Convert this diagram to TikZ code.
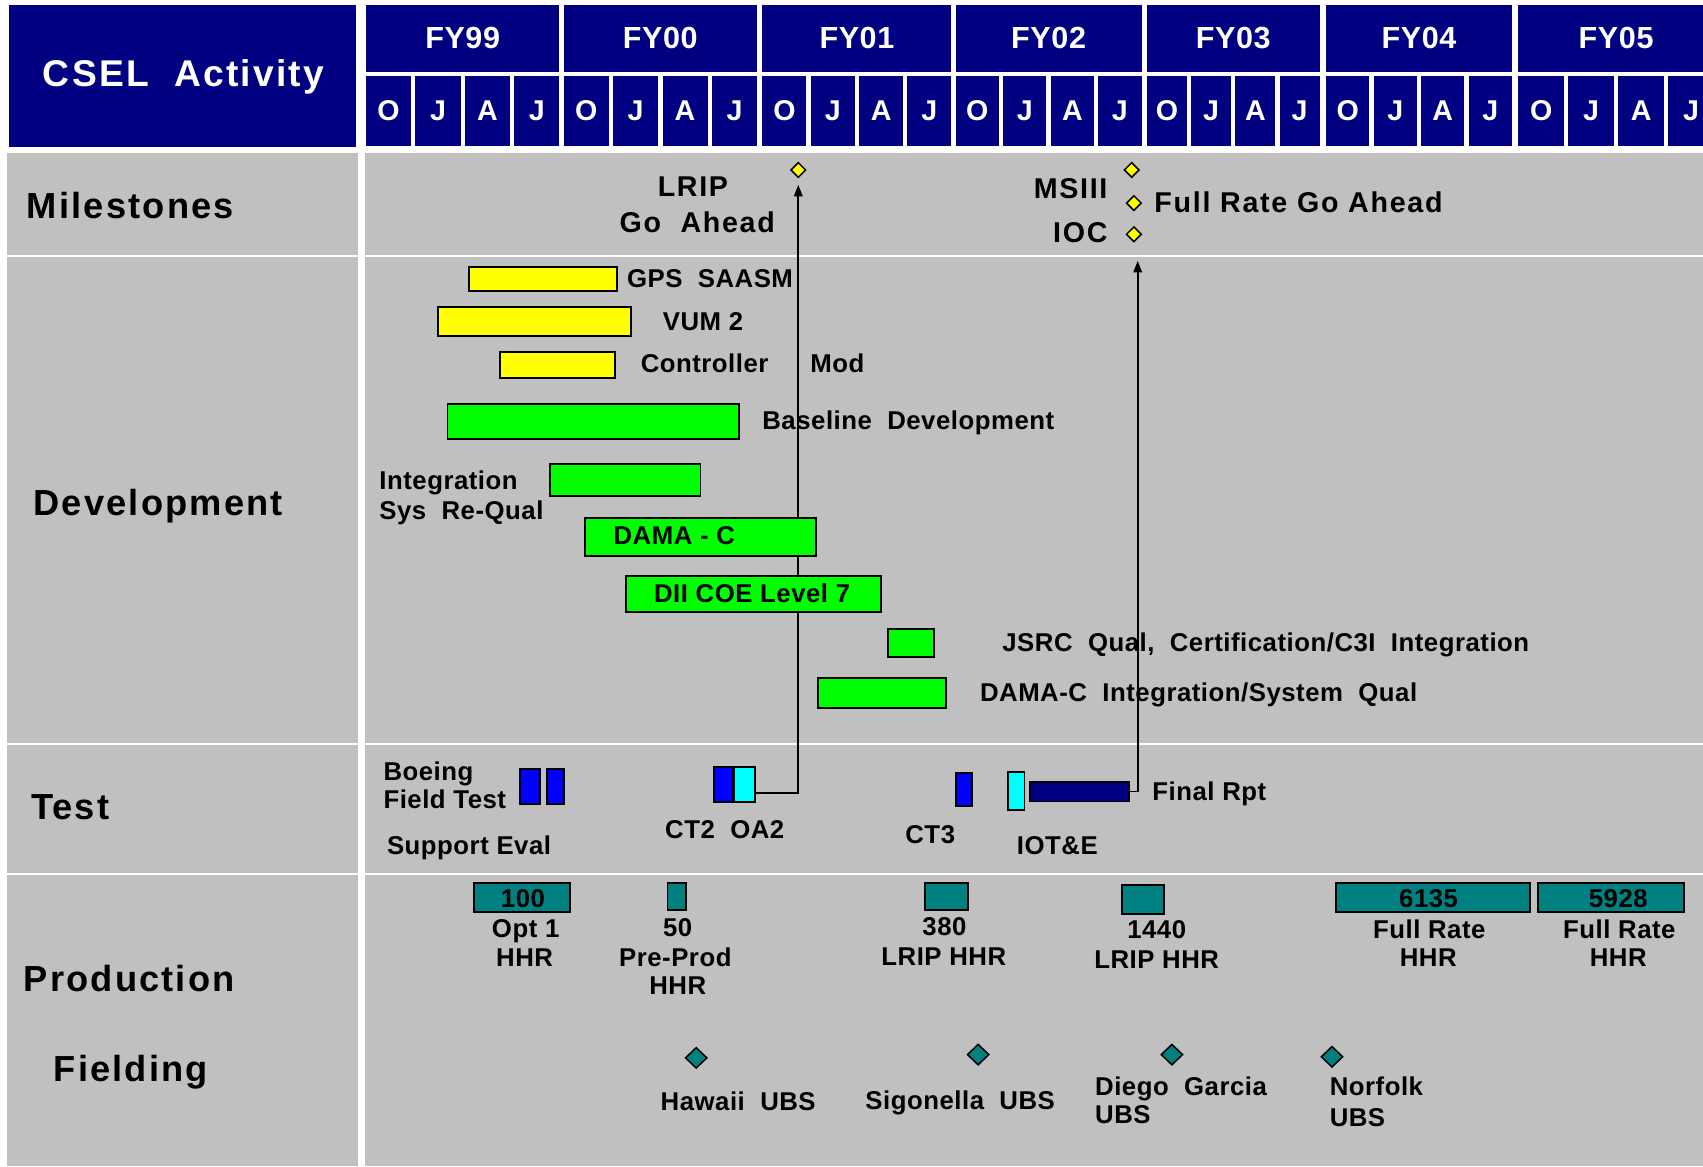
\documentclass[tikz,border=0pt]{standalone}
\usepackage{fontspec}
\setmainfont{Liberation Sans}[LetterSpace=2]
\newfontfamily\widefont{Liberation Sans}[LetterSpace=6]
\usetikzlibrary{arrows.meta,positioning,shapes.geometric,fit}
\definecolor{chartnavy}{HTML}{000080}
\definecolor{chartgray}{HTML}{C0C0C0}
\definecolor{baryellow}{HTML}{FFFF00}
\definecolor{bargreen}{HTML}{00FF00}
\definecolor{barblue}{HTML}{0000FF}
\definecolor{barcyan}{HTML}{00FFFF}
\definecolor{barteal}{HTML}{008080}

\begin{document}
\begin{tikzpicture}[x=.02cm,y=-.02cm,
    yrtxt/.style={anchor=mid,yshift=-3.3pt,inner sep=0pt,text=white,font=\fontsize{16}{18}\selectfont\bfseries},
    montxt/.style={anchor=mid,yshift=-3.2pt,inner sep=0pt,text=white,font=\fontsize{15}{17}\selectfont\bfseries},
    rowtxt/.style={anchor=mid west,yshift=-4.2pt,inner sep=0pt,font=\widefont\fontsize{19}{21}\selectfont\bfseries},
    mstxt/.style={anchor=mid,yshift=-3.2pt,inner sep=0pt,font=\widefont\fontsize{15}{17}\selectfont\bfseries},
    txt/.style={anchor=mid,yshift=-2.45pt,inner sep=0pt,font=\fontsize{13.5}{15}\selectfont\bfseries},
    bar/.style={draw=black,line width=1pt,inner sep=0pt},
    msmark/.style={diamond,draw=black,fill=baryellow,line width=.8pt,inner sep=0pt,minimum width=8pt,minimum height=8pt},
    sitemark/.style={diamond,draw=black,fill=barteal,line width=.8pt,inner sep=0pt,minimum width=11.5pt,minimum height=11pt},
    link/.style={black,line width=.9pt,-{Triangle[length=6pt,width=4.5pt]}}]
  \useasboundingbox (0,0) rectangle (1568,1074);
  \clip (0,0) rectangle (1568,1074);
  \fill[white] (0,0) rectangle (1568,1074);

  % header
  \fill[chartnavy] (8,5) rectangle (328,135);
  \node[rowtxt,anchor=mid,yshift=-.6pt,text=white,font=\widefont\fontsize{19.5}{21}\selectfont\bfseries] (title) at (169,67) {CSEL~~Activity};
  \foreach \fl/\fr/\fy in {337/515/FY99,519/697/FY00,702/876/FY01,880/1051/FY02,1056/1215/FY03,1221/1392/FY04,1398/1578/FY05}{
    \fill[chartnavy] (\fl,5) rectangle (\fr,66);
    \node[yrtxt] (yr-\fy) at ({(\fl+\fr)/2},34.5) {\fy};
    \pgfmathsetmacro\mw{(\fr-\fl-12)/4}
    \foreach \m [count=\k from 0] in {O,J,A,J}{
      \fill[chartnavy] ({\fl+\k*(\mw+4)},70) rectangle ({\fl+\k*(\mw+4)+\mw},134);
      \node[montxt] (mo-\fy-\k) at ({\fl+\k*(\mw+4)+\mw/2},101) {\m};
    }
  }

  % rows
  \foreach \ya/\yb in {141/235,236.8/684,685.8/803.5,805.6/1074}{
    \fill[chartgray] (6,\ya) rectangle (330,\yb);
    \fill[chartgray] (336,\ya) rectangle (1568,\yb);
  }
  \node[rowtxt] (lblms) at (24.5,189.4) {Milestones};
  \node[rowtxt] (lbldev) at (30.5,463) {Development};
  \node[rowtxt] (lbltest) at (28.2,742.6) {Test};
  \node[rowtxt] (lblprod) at (21.5,901) {Production};
  \node[rowtxt] (lblfield) at (49.1,984) {Fielding};

  % milestones
  \node[mstxt] (lriptxt) at (638,170.8) {LRIP};
  \node[mstxt] (gotxt) at (642,204) {Go~~Ahead};
  \node[msmark] (lrip) at (735,156.5) {};
  \node[msmark] (msiii) at (1042,156.5) {};
  \node[msmark] (fullrate) at (1044,187) {};
  \node[msmark] (ioc) at (1044,215.7) {};
  \node[mstxt,anchor=mid east] (msiiitxt) at (1020,172.6) {MSIII};
  \node[mstxt,anchor=mid east] (ioctxt) at (1020,212.7) {IOC};
  \node[mstxt,anchor=mid west] (fulltxt) at (1062.6,185) {Full Rate Go Ahead};

  % test
  \node[bar,fill=barblue,fit={(478.8,708.3) (497.2,740.3)}] (bft1) {};
  \node[bar,fill=barblue,fit={(504,708.3) (519.6,740.3)}] (bft2) {};
  \node[txt,anchor=mid west] (bfttxt1) at (352.8,709.7) {Boeing};
  \node[txt,anchor=mid west] (bfttxt2) at (352.8,735.5) {Field Test};
  \node[txt,anchor=mid west] (evaltxt) at (356,777.7) {Support Eval};
  \node[bar,fill=barblue,fit={(657,706.5) (674.6,738.7)}] (ct2) {};
  \node[bar,fill=barcyan,fit={(675.5,706.5) (694.8,738.7)}] (oa2) {};
  \node[txt] (ct2txt) at (667.3,763) {CT2~~OA2};
  \node[bar,fill=barblue,fit={(879.8,712) (895.3,742)}] (ct3) {};
  \node[txt] (ct3txt) at (856.5,767.7) {CT3};
  \node[bar,fill=barcyan,fit={(928,710.5) (943.3,745.8)}] (iote) {};
  \node[txt,anchor=mid west] (iotetxt) at (936,778) {IOT\&E};
  \node[bar,fill=chartnavy,fit={(948,719.7) (1039.6,738)}] (frpt) {};
  \node[txt,anchor=mid west] (frpttxt) at (1060.7,728) {Final Rpt};
  \coordinate (iocfoot) at (1047.5,215.7);

  % development labels
  \node[txt,anchor=mid west] (gpstxt) at (577,256) {GPS~~SAASM};
  \node[txt,anchor=mid west] (vumtxt) at (610,295) {VUM 2};
  \node[txt,anchor=mid west] (ctrltxt) at (589.6,334) {Controller\hspace{22pt}Mod};
  \node[txt,anchor=mid west] (basetxt) at (701.6,386.4) {Baseline~~Development};
  \node[txt,anchor=mid west] (integtxt1) at (349,441.3) {Integration};
  \node[txt,anchor=mid west] (integtxt2) at (349,469) {Sys~~Re-Qual};
  \node[txt,anchor=mid west] (jsrctxt) at (922.6,591) {JSRC~~Qual,~~Certification/C3I~~Integration};
  \node[txt,anchor=mid west] (damainttxt) at (902,637) {DAMA-C~~Integration/System~~Qual};

  \draw[link,shorten >=3.4pt] (oa2.-36) -| (lrip.south);
  \draw[link,shorten >=14pt] (frpt.east) -| (iocfoot);

  % development bars
  \node[bar,fill=baryellow,fit={(432,246) (568,268)}] (gps) {};
  \node[bar,fill=baryellow,fit={(403,283) (581,309)}] (vum) {};
  \node[bar,fill=baryellow,fit={(460,324) (566,348)}] (ctrl) {};
  \node[bar,fill=bargreen,fit={(412,372) (680,404)}] (base) {};
  \node[bar,fill=bargreen,fit={(506,427) (645,457)}] (integ) {};
  \node[bar,fill=bargreen,fit={(539,477) (751,512)}] (dama) {};
  \node[txt,anchor=mid west] (damatxt) at (564.6,492) {DAMA - C};
  \node[bar,fill=bargreen,fit={(576,530) (811,563.5)}] (dii) {};
  \node[txt] (diitxt) at (692.5,546) {DII COE Level 7};
  \node[bar,fill=bargreen,fit={(817.6,579) (860,604.6)}] (jsrc) {};
  \node[bar,fill=bargreen,fit={(752.8,624) (871,652)}] (damaint) {};

  % production
  \node[bar,fill=barteal,fit={(436.7,813.3) (524.8,840)}] (p100) {};
  \node[txt] (p100n) at (481.5,826.4) {100};
  \node[txt] (p100a) at (484,854) {Opt 1};
  \node[txt] (p100b) at (483,880.8) {HHR};
  \node[bar,fill=barteal,fit={(614.6,813) (632,838)}] (p50) {};
  \node[txt] (p50a) at (624,853.5) {50};
  \node[txt] (p50b) at (621.8,881) {Pre-Prod};
  \node[txt] (p50c) at (624,906.5) {HHR};
  \node[bar,fill=barteal,fit={(852,813) (891,838)}] (p380) {};
  \node[txt] (p380a) at (869.6,852.5) {380};
  \node[txt] (p380b) at (869,879.8) {LRIP HHR};
  \node[bar,fill=barteal,fit={(1033,815) (1072,841.8)}] (p1440) {};
  \node[txt] (p1440a) at (1065,855.5) {1440};
  \node[txt] (p1440b) at (1065,882.8) {LRIP HHR};
  \node[bar,fill=barteal,fit={(1230,813) (1409,840)}] (p6135) {};
  \node[txt] (p6135n) at (1315.4,827) {6135};
  \node[txt] (p6135a) at (1316,855) {Full Rate};
  \node[txt] (p6135b) at (1315,880.8) {HHR};
  \node[bar,fill=barteal,fit={(1416,813) (1550.6,840)}] (p5928) {};
  \node[txt] (p5928n) at (1490,827) {5928};
  \node[txt] (p5928a) at (1491,855) {Full Rate};
  \node[txt] (p5928b) at (1490,880.8) {HHR};

  % fielding
  \node[sitemark] (hawaii) at (641,974) {};
  \node[sitemark] (sigonella) at (900.6,971) {};
  \node[sitemark] (diego) at (1079,971) {};
  \node[sitemark] (norfolk) at (1226.4,973) {};
  \node[txt,anchor=mid west] (hawaiitxt) at (608,1013.5) {Hawaii~~UBS};
  \node[txt,anchor=mid west] (sigonellatxt) at (796.5,1012.5) {Sigonella~~UBS};
  \node[txt,anchor=mid west] (diegotxt1) at (1008,999.7) {Diego~~Garcia};
  \node[txt,anchor=mid west] (diegotxt2) at (1008,1025.7) {UBS};
  \node[txt,anchor=mid west] (norfolktxt1) at (1224,999.7) {Norfolk};
  \node[txt,anchor=mid west] (norfolktxt2) at (1224,1028) {UBS};
\end{tikzpicture}
\end{document}
